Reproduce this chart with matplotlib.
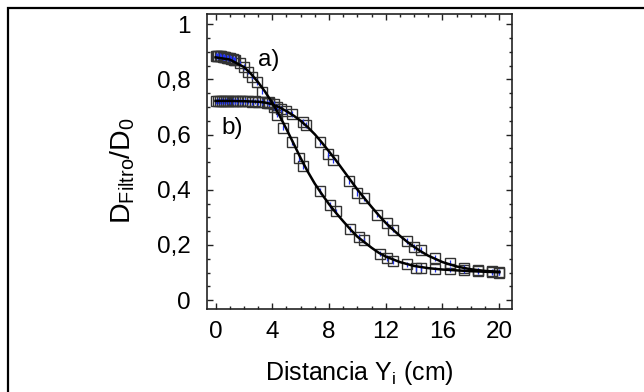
import matplotlib
matplotlib.use("Agg")
import matplotlib.pyplot as plt
from matplotlib.patches import Rectangle
from matplotlib.ticker import MultipleLocator, FixedLocator, FixedFormatter
import numpy as np

plt.rcParams['font.family'] = ['Liberation Sans', 'DejaVu Sans']
plt.rcParams['mathtext.fontset'] = 'custom'
plt.rcParams['mathtext.rm'] = 'Liberation Sans'
plt.rcParams['mathtext.it'] = 'Liberation Sans'
plt.rcParams['mathtext.default'] = 'regular'

# measured points, curve a)
xa = [0.0, 0.1, 0.2, 0.3, 0.4, 0.5, 0.6, 0.7, 0.8, 0.9, 1.0, 1.1, 1.2, 1.3, 1.4,
      1.7, 2.0, 2.3, 2.6, 2.9, 3.3, 3.8, 4.1, 4.3, 4.75, 5.4, 5.9, 6.2,
      7.4, 8.1, 8.5, 9.5, 10.1, 10.5, 11.6, 12.1, 12.5, 13.5, 14.1, 14.5,
      15.5, 16.5, 17.5, 18.5, 19.5, 20.0]
ya = [0.886, 0.885, 0.884, 0.884, 0.883, 0.882, 0.881, 0.880, 0.879, 0.878, 0.877, 0.875, 0.874, 0.872, 0.870,
      0.858, 0.845, 0.828, 0.810, 0.790, 0.756, 0.717, 0.700, 0.672, 0.625, 0.572, 0.514, 0.487,
      0.395, 0.344, 0.322, 0.257, 0.228, 0.217, 0.169, 0.152, 0.141, 0.130, 0.117, 0.116,
      0.112, 0.112, 0.110, 0.105, 0.101, 0.100]

# measured points, curve b)
xb = [0.0, 0.15, 0.3, 0.45, 0.6, 0.75, 0.9, 1.05, 1.2, 1.35, 1.5, 1.7, 1.9, 2.1, 2.3,
      2.6, 2.8, 3.0, 3.3, 3.6, 3.8, 4.1, 4.3, 4.6, 5.0, 5.4, 6.2, 6.4,
      7.4, 7.9, 8.3, 9.4, 10.0, 10.5, 11.4, 12.1, 12.5, 13.5, 14.0, 14.5,
      15.5, 16.5, 17.5, 18.5, 19.5, 20.0]
yb = [0.720, 0.721, 0.720, 0.721, 0.720, 0.721, 0.720, 0.720, 0.721, 0.720, 0.721, 0.720, 0.720, 0.721, 0.720,
      0.719, 0.720, 0.719, 0.718, 0.716, 0.714, 0.710, 0.700, 0.692, 0.684, 0.674, 0.645, 0.634,
      0.572, 0.530, 0.507, 0.431, 0.389, 0.369, 0.310, 0.278, 0.256, 0.214, 0.192, 0.181,
      0.152, 0.134, 0.116, 0.108, 0.104, 0.102]

# fitted curves
fit_xa = [0, 1, 2, 2.5, 3, 3.5, 4, 4.5, 5, 5.5, 6, 6.5, 7, 7.5, 8, 8.5, 9, 9.5, 10,
          10.5, 11, 11.5, 12, 13, 14, 15, 16, 17, 18, 19, 20]
fit_ya = [0.880, 0.872, 0.845, 0.820, 0.790, 0.755, 0.715, 0.670, 0.620, 0.568, 0.515, 0.466, 0.422, 0.384, 0.348,
          0.316, 0.286, 0.257, 0.230, 0.210, 0.190, 0.172, 0.158, 0.138, 0.124, 0.116, 0.111, 0.108, 0.105, 0.103, 0.101]
fit_xb = [0, 1, 2, 3, 3.5, 4, 4.5, 5, 5.5, 6, 6.5, 7, 7.5, 8, 8.5, 9, 9.5, 10, 10.5,
          11, 11.5, 12, 12.5, 13, 13.5, 14, 14.5, 15, 16, 17, 18, 19, 20]
fit_yb = [0.722, 0.722, 0.721, 0.719, 0.716, 0.710, 0.699, 0.685, 0.669, 0.650, 0.627, 0.601, 0.571, 0.539, 0.506,
          0.471, 0.436, 0.401, 0.369, 0.338, 0.308, 0.280, 0.256, 0.233, 0.212, 0.193, 0.176, 0.161, 0.138, 0.122,
          0.112, 0.106, 0.103]

err = 0.01

yticks = [0, 0.2, 0.4, 0.6, 0.8, 1.0]
ytick_labels = ["0", "0,2", "0,4", "0,6", "0,8", "1"]
xticks = [0, 4, 8, 12, 16, 20]

fig = plt.figure(figsize=(6.44, 3.92), dpi=100)
ax = fig.add_axes([207 / 644, 1 - 309 / 392, (512 - 207) / 644, (309 - 14) / 392])

for xs, ys in [(xa, ya), (xb, yb)]:
    ax.plot(xs, ys, ls='none', marker='s', ms=7.2, mfc='none', mec='#333333', mew=1.0, zorder=2)
    ax.errorbar(xs, ys, yerr=err, fmt='none', ecolor='#2233ee', elinewidth=0.9, capsize=0, zorder=3)

ax.plot(fit_xa, fit_ya, color='black', lw=1.8, zorder=4)
ax.plot(fit_xb, fit_yb, color='black', lw=1.8, zorder=4)

ax.set_xlim(-0.6, 20.9)
ax.set_ylim(-0.032, 1.037)
ax.xaxis.set_major_locator(FixedLocator(xticks))
ax.xaxis.set_minor_locator(MultipleLocator(1))
ax.yaxis.set_major_locator(FixedLocator(yticks))
ax.yaxis.set_major_formatter(FixedFormatter(ytick_labels))
ax.yaxis.set_minor_locator(MultipleLocator(0.05))
ax.tick_params(which='both', direction='in', top=True, right=True, width=1.0, colors='#222222')
ax.tick_params(which='major', length=4.5)
ax.tick_params(which='minor', length=2.5)
ax.tick_params(axis='y', which='major', pad=12, labelsize=17.5, labelcolor='black')
ax.tick_params(axis='x', which='major', pad=9, labelsize=17.5, labelcolor='black')
for sp in ax.spines.values():
    sp.set_linewidth(1.2)
    sp.set_color('#222222')

ax.set_xlabel(r"Distancia Y$_\mathregular{i}$ (cm)", fontsize=18, labelpad=11)
ax.set_ylabel(r"D$_\mathregular{Filtro}$/D$_\mathregular{0}$", fontsize=20.5, labelpad=16)
ax.yaxis.set_label_coords(-0.23, 0.47)

ax.text(3.75, 0.87, "a)", fontsize=17.5, ha='center', va='center')
ax.text(1.15, 0.625, "b)", fontsize=17.5, ha='center', va='center')

# outer frame (cropped at right and bottom)
fig.add_artist(Rectangle((7.5 / 644, -0.5), 2.0, 1.5 - 7.5 / 392, transform=fig.transFigure,
                         fill=False, lw=1.6, ec='black'))

fig.savefig("out.png", dpi=100)
